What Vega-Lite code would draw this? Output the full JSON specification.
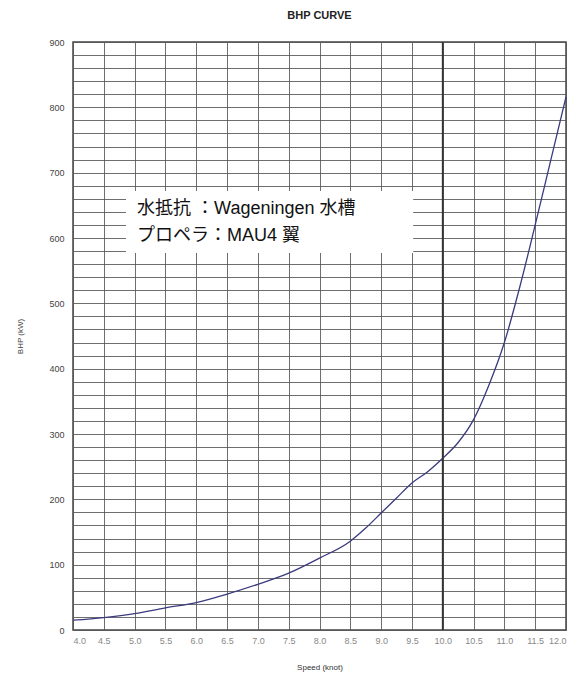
{
  "$schema": "https://vega.github.io/schema/vega-lite/v6.json",
  "width": 493,
  "height": 588,
  "autosize": "none",
  "padding": {"left": 73, "top": 42, "right": 10, "bottom": 45},
  "background": "white",
  "title": {"text": "BHP CURVE", "fontSize": 11, "font": "Liberation Sans", "fontWeight": "bold", "color": "#222", "offset": 17},
  "config": {
    "view": {"stroke": "#444", "strokeWidth": 1.5},
    "axis": {"labelFont": "Liberation Sans", "titleFont": "Liberation Sans", "domain": false, "ticks": false, "gridColor": "#555", "gridOpacity": 0.85, "gridWidth": 1}
  },
  "datasets": {
    "curve": [
      {"speed": 4.0, "bhp": 15}, {"speed": 4.5, "bhp": 19}, {"speed": 5.0, "bhp": 25},
      {"speed": 5.5, "bhp": 34}, {"speed": 6.0, "bhp": 42}, {"speed": 6.5, "bhp": 55},
      {"speed": 7.0, "bhp": 70}, {"speed": 7.5, "bhp": 87}, {"speed": 8.0, "bhp": 110},
      {"speed": 8.5, "bhp": 136}, {"speed": 8.75, "bhp": 156}, {"speed": 9.0, "bhp": 179},
      {"speed": 9.25, "bhp": 202}, {"speed": 9.5, "bhp": 225}, {"speed": 9.75, "bhp": 242},
      {"speed": 10.0, "bhp": 263}, {"speed": 10.25, "bhp": 287}, {"speed": 10.5, "bhp": 322},
      {"speed": 10.75, "bhp": 375}, {"speed": 11.0, "bhp": 440}, {"speed": 11.25, "bhp": 525},
      {"speed": 11.5, "bhp": 620}, {"speed": 11.75, "bhp": 718}, {"speed": 12.0, "bhp": 816}
    ],
    "box": [{"speed": 4.86, "speed2": 9.52, "bhp": 577, "bhp2": 672}],
    "notes": [
      {"speed": 5.04, "bhp": 644, "label": "水抵抗 ：Wageningen 水槽"},
      {"speed": 5.04, "bhp": 603, "label": "プロペラ：MAU4 翼"}
    ],
    "heavy": [{"speed": 10, "bhp": 0, "bhp2": 900}]
  },
  "encoding": {
    "x": {"field": "speed", "type": "quantitative",
          "scale": {"domain": [4, 12], "nice": false, "zero": false},
          "axis": {"values": [4, 4.5, 5, 5.5, 6, 6.5, 7, 7.5, 8, 8.5, 9, 9.5, 10, 10.5, 11, 11.5, 12],
                   "labelOverlap": false,
                   "format": ".1f", "labelFontSize": 9, "labelColor": "#888", "labelPadding": 6,
                   "title": "Speed (knot)", "titleFontSize": 8, "titleFontWeight": "normal", "titleColor": "#333", "titlePadding": 18}},
    "y": {"field": "bhp", "type": "quantitative",
          "scale": {"domain": [0, 900], "nice": false},
          "axis": {"values": [0, 20, 40, 60, 80, 100, 120, 140, 160, 180, 200, 220, 240, 260, 280, 300, 320, 340, 360, 380, 400, 420, 440, 460, 480, 500, 520, 540, 560, 580, 600, 620, 640, 660, 680, 700, 720, 740, 760, 780, 800, 820, 840, 860, 880, 900],
                   "labelOverlap": false,
                   "labelExpr": "datum.value % 100 === 0 ? datum.label : ''",
                   "labelFontSize": 9, "labelColor": "#444", "labelPadding": 9,
                   "title": "BHP (kW)", "titleFontSize": 8, "titleFontWeight": "normal", "titleColor": "#444", "titlePadding": 24}}
  },
  "layer": [
    {
      "data": {"name": "curve"},
      "mark": {"type": "line", "interpolate": "monotone", "color": "#3a3a7e", "strokeWidth": 1.3}
    },
    {
      "data": {"name": "heavy"},
      "mark": {"type": "rule", "color": "#333", "strokeWidth": 1.8},
      "encoding": {"y2": {"field": "bhp2"}}
    },
    {
      "data": {"name": "box"},
      "mark": {"type": "rect", "color": "white", "opacity": 1},
      "encoding": {"x2": {"field": "speed2"}, "y2": {"field": "bhp2"}}
    },
    {
      "data": {"name": "notes"},
      "mark": {"type": "text", "align": "left", "baseline": "middle", "font": "Liberation Sans, Noto Sans CJK JP", "fontSize": 18, "color": "#111"},
      "encoding": {"text": {"field": "label"}}
    }
  ]
}
